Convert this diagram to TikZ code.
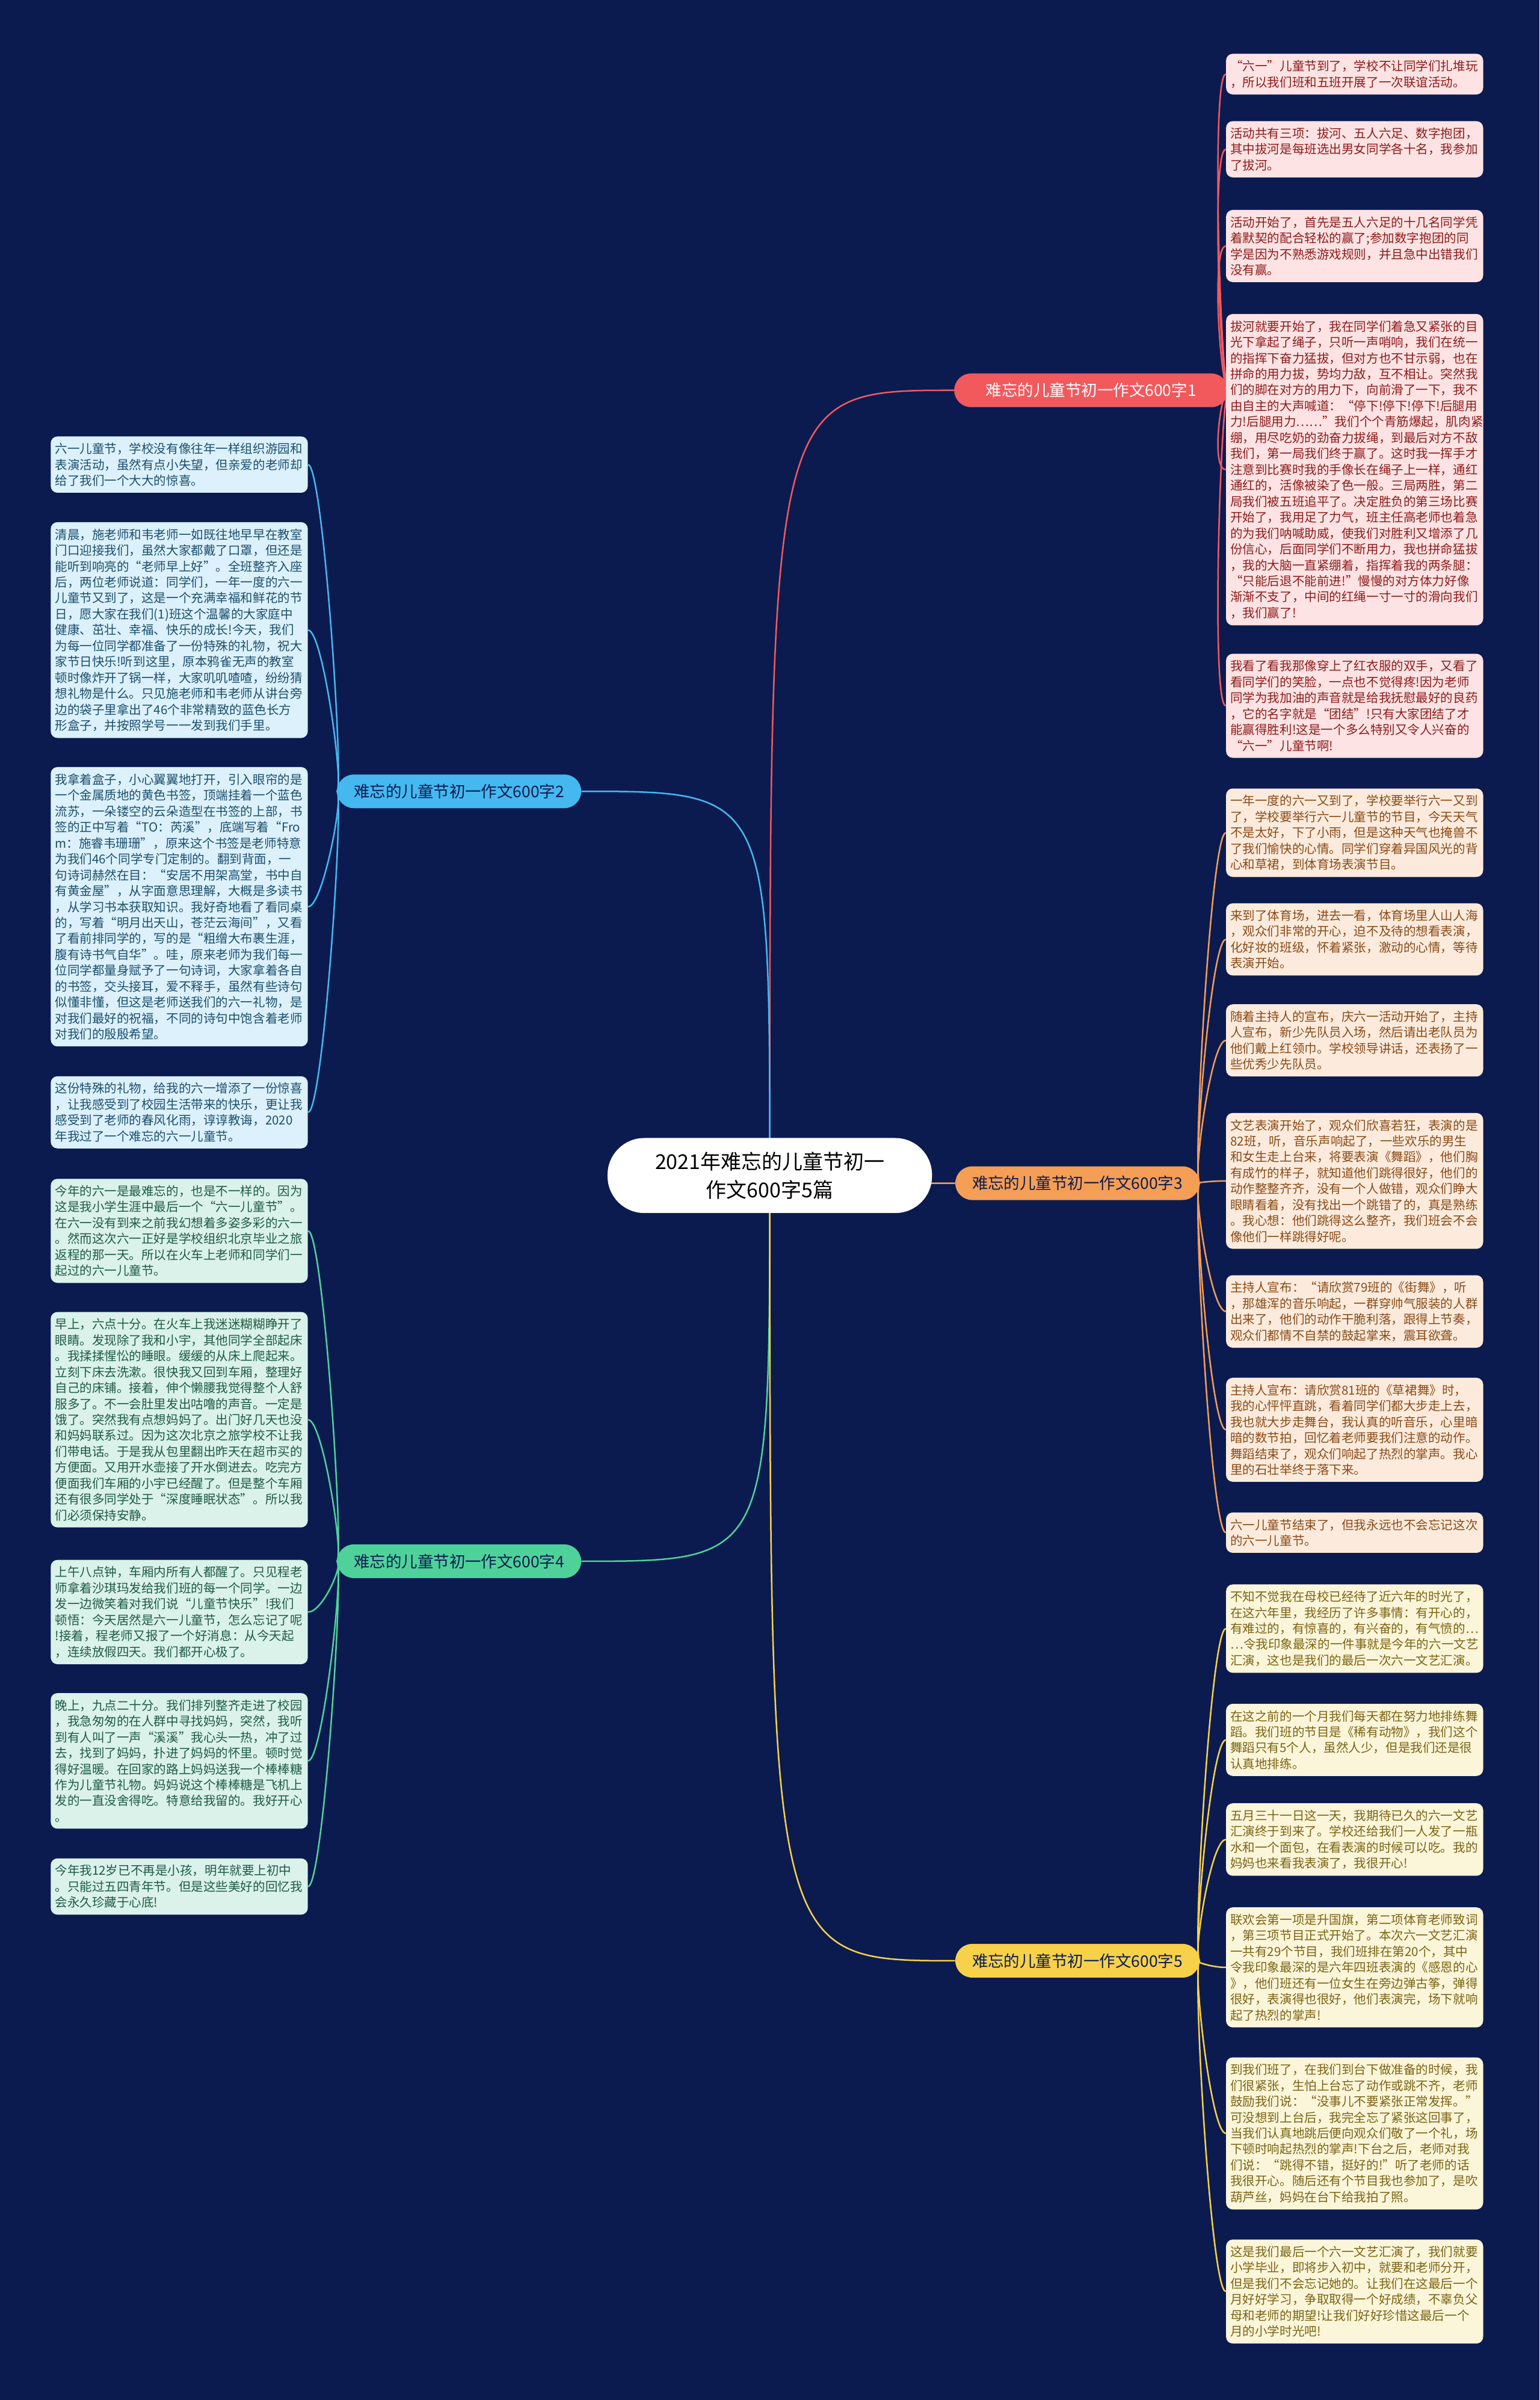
\documentclass[tikz,border=0pt]{standalone}
\usepackage{fontspec}
\setmainfont{Noto Sans CJK SC}
\usetikzlibrary{backgrounds}

\definecolor{bgnavy}{HTML}{0B1B50}
\definecolor{cred}{HTML}{F2595C}
\definecolor{corange}{HTML}{F59E55}
\definecolor{cyellow}{HTML}{F7D14A}
\definecolor{cblue}{HTML}{45B8F0}
\definecolor{cgreen}{HTML}{4FD29A}
\definecolor{fred}{HTML}{FDE3E3}
\definecolor{forange}{HTML}{FCEBDD}
\definecolor{fyellow}{HTML}{FBF5DA}
\definecolor{fblue}{HTML}{DCF1FB}
\definecolor{fgreen}{HTML}{DAF2EA}
\definecolor{tred}{HTML}{8E1B1B}
\definecolor{torange}{HTML}{8A4A16}
\definecolor{tyellow}{HTML}{7C6414}
\definecolor{tblue}{HTML}{1B4F6E}
\definecolor{tgreen}{HTML}{1E5B45}

\tikzset{
  leaf/.style={rounded corners=2.2mm, align=left, text width=231pt,
    inner xsep=4pt, inner ysep=6pt, font=\fontsize{11.5pt}{14.8pt}\selectfont},
  leafr/.style={leaf, fill=fred, text=tred, anchor=north west},
  leafo/.style={leaf, fill=forange, text=torange, anchor=north west},
  leafy/.style={leaf, fill=fyellow, text=tyellow, anchor=north west},
  leafb/.style={leaf, fill=fblue, text=tblue, anchor=north west},
  leafg/.style={leaf, fill=fgreen, text=tgreen, anchor=north west},
  branch/.style={rounded corners=5.5mm, minimum height=11mm, inner xsep=5.5mm,
    font=\fontsize{14.8pt}{17pt}\selectfont},
  root/.style={fill=white, rounded corners=12mm, minimum width=106mm,
    minimum height=24.5mm, align=center, text=black,
    font=\fontsize{19pt}{26pt}\selectfont},
  link/.style={line width=1.4pt}
}

\begin{document}
\begin{tikzpicture}[x=0.5mm,y=-0.5mm]
  \useasboundingbox (0,0) rectangle (1006,1568);

  \node[root] (root) at (503,768) {2021年难忘的儿童节初一\\作文600字5篇};

  \node[branch, fill=cred, text=white, minimum width=89.5mm] (b1) at (713,255) {难忘的儿童节初一作文600字1};
  \node[branch, fill=cblue, text=bgnavy] (b2) at (300,517) {难忘的儿童节初一作文600字2};
  \node[branch, fill=corange, text=bgnavy] (b3) at (704,773) {难忘的儿童节初一作文600字3};
  \node[branch, fill=cgreen, text=bgnavy] (b4) at (300,1020) {难忘的儿童节初一作文600字4};
  \node[branch, fill=cyellow, text=bgnavy] (b5) at (704,1281) {难忘的儿童节初一作文600字5};

  % essay 1
  \node[leafr] (r1a) at (801,35) {“六一”儿童节到了，学校不让同学们扎堆玩\\，所以我们班和五班开展了一次联谊活动。};
  \node[leafr] (r1b) at (801,79) {活动共有三项：拔河、五人六足、数字抱团，\\其中拔河是每班选出男女同学各十名，我参加\\了拔河。};
  \node[leafr] (r1c) at (801,137) {活动开始了，首先是五人六足的十几名同学凭\\着默契的配合轻松的赢了;参加数字抱团的同\\学是因为不熟悉游戏规则，并且急中出错我们\\没有赢。};
  \node[leafr] (r1d) at (801,205) {拔河就要开始了，我在同学们着急又紧张的目\\光下拿起了绳子，只听一声哨响，我们在统一\\的指挥下奋力猛拔，但对方也不甘示弱，也在\\拼命的用力拔，势均力敌，互不相让。突然我\\们的脚在对方的用力下，向前滑了一下，我不\\由自主的大声喊道：“停下!停下!停下!后腿用\\力!后腿用力……”我们个个青筋爆起，肌肉紧\\绷，用尽吃奶的劲奋力拔绳，到最后对方不敌\\我们，第一局我们终于赢了。这时我一挥手才\\注意到比赛时我的手像长在绳子上一样，通红\\通红的，活像被染了色一般。三局两胜，第二\\局我们被五班追平了。决定胜负的第三场比赛\\开始了，我用足了力气，班主任高老师也着急\\的为我们呐喊助威，使我们对胜利又增添了几\\份信心，后面同学们不断用力，我也拼命猛拔\\，我的大脑一直紧绷着，指挥着我的两条腿：\\“只能后退不能前进!”慢慢的对方体力好像\\渐渐不支了，中间的红绳一寸一寸的滑向我们\\，我们赢了!};
  \node[leafr] (r1e) at (801,427) {我看了看我那像穿上了红衣服的双手，又看了\\看同学们的笑脸，一点也不觉得疼!因为老师\\同学为我加油的声音就是给我抚慰最好的良药\\，它的名字就是“团结”!只有大家团结了才\\能赢得胜利!这是一个多么特别又令人兴奋的\\“六一”儿童节啊!};

  % essay 3
  \node[leafo] (r3a) at (801,515) {一年一度的六一又到了，学校要举行六一又到\\了，学校要举行六一儿童节的节目，今天天气\\不是太好，下了小雨，但是这种天气也掩兽不\\了我们愉快的心情。同学们穿着异国风光的背\\心和草裙，到体育场表演节目。};
  \node[leafo] (r3b) at (801,590) {来到了体育场，进去一看，体育场里人山人海\\，观众们非常的开心，迫不及待的想看表演，\\化好妆的班级，怀着紧张，激动的心情，等待\\表演开始。};
  \node[leafo] (r3c) at (801,656) {随着主持人的宣布，庆六一活动开始了，主持\\人宣布，新少先队员入场，然后请出老队员为\\他们戴上红领巾。学校领导讲话，还表扬了一\\些优秀少先队员。};
  \node[leafo] (r3d) at (801,727) {文艺表演开始了，观众们欣喜若狂，表演的是\\82班，听，音乐声响起了，一些欢乐的男生\\和女生走上台来，将要表演《舞蹈》，他们胸\\有成竹的样子，就知道他们跳得很好，他们的\\动作整整齐齐，没有一个人做错，观众们睁大\\眼睛看着，没有找出一个跳错了的，真是熟练\\。我心想：他们跳得这么整齐，我们班会不会\\像他们一样跳得好呢。};
  \node[leafo] (r3e) at (801,833) {主持人宣布：“请欣赏79班的《街舞》，听\\，那雄浑的音乐响起，一群穿帅气服装的人群\\出来了，他们的动作干脆利落，跟得上节奏，\\观众们都情不自禁的鼓起掌来，震耳欲聋。};
  \node[leafo] (r3f) at (801,900) {主持人宣布：请欣赏81班的《草裙舞》时，\\我的心怦怦直跳，看着同学们都大步走上去，\\我也就大步走舞台，我认真的听音乐，心里暗\\暗的数节拍，回忆着老师要我们注意的动作。\\舞蹈结束了，观众们响起了热烈的掌声。我心\\里的石壮举终于落下来。};
  \node[leafo] (r3g) at (801,988) {六一儿童节结束了，但我永远也不会忘记这次\\的六一儿童节。};

  % essay 5
  \node[leafy] (r5a) at (801,1035) {不知不觉我在母校已经待了近六年的时光了，\\在这六年里，我经历了许多事情：有开心的，\\有难过的，有惊喜的，有兴奋的，有气愤的…\\…令我印象最深的一件事就是今年的六一文艺\\汇演，这也是我们的最后一次六一文艺汇演。};
  \node[leafy] (r5b) at (801,1113) {在这之前的一个月我们每天都在努力地排练舞\\蹈。我们班的节目是《稀有动物》，我们这个\\舞蹈只有5个人，虽然人少，但是我们还是很\\认真地排练。};
  \node[leafy] (r5c) at (801,1178) {五月三十一日这一天，我期待已久的六一文艺\\汇演终于到来了。学校还给我们一人发了一瓶\\水和一个面包，在看表演的时候可以吃。我的\\妈妈也来看我表演了，我很开心!};
  \node[leafy] (r5d) at (801,1246) {联欢会第一项是升国旗，第二项体育老师致词\\，第三项节目正式开始了。本次六一文艺汇演\\一共有29个节目，我们班排在第20个，其中\\令我印象最深的是六年四班表演的《感恩的心\\》，他们班还有一位女生在旁边弹古筝，弹得\\很好，表演得也很好，他们表演完，场下就响\\起了热烈的掌声!};
  \node[leafy] (r5e) at (801,1344) {到我们班了，在我们到台下做准备的时候，我\\们很紧张，生怕上台忘了动作或跳不齐，老师\\鼓励我们说：“没事儿不要紧张正常发挥。”\\可没想到上台后，我完全忘了紧张这回事了，\\当我们认真地跳后便向观众们敬了一个礼，场\\下顿时响起热烈的掌声!下台之后，老师对我\\们说：“跳得不错，挺好的!”听了老师的话\\我很开心。随后还有个节目我也参加了，是吹\\葫芦丝，妈妈在台下给我拍了照。};
  \node[leafy] (r5f) at (801,1463) {这是我们最后一个六一文艺汇演了，我们就要\\小学毕业，即将步入初中，就要和老师分开，\\但是我们不会忘记她的。让我们在这最后一个\\月好好学习，争取取得一个好成绩，不辜负父\\母和老师的期望!让我们好好珍惜这最后一个\\月的小学时光吧!};

  % essay 2
  \node[leafb] (l2a) at (33,285) {六一儿童节，学校没有像往年一样组织游园和\\表演活动，虽然有点小失望，但亲爱的老师却\\给了我们一个大大的惊喜。};
  \node[leafb] (l2b) at (33,341) {清晨，施老师和韦老师一如既往地早早在教室\\门口迎接我们，虽然大家都戴了口罩，但还是\\能听到响亮的“老师早上好”。全班整齐入座\\后，两位老师说道：同学们，一年一度的六一\\儿童节又到了，这是一个充满幸福和鲜花的节\\日，愿大家在我们(1)班这个温馨的大家庭中\\健康、茁壮、幸福、快乐的成长!今天，我们\\为每一位同学都准备了一份特殊的礼物，祝大\\家节日快乐!听到这里，原本鸦雀无声的教室\\顿时像炸开了锅一样，大家叽叽喳喳，纷纷猜\\想礼物是什么。只见施老师和韦老师从讲台旁\\边的袋子里拿出了46个非常精致的蓝色长方\\形盒子，并按照学号一一发到我们手里。};
  \node[leafb] (l2c) at (33,501) {我拿着盒子，小心翼翼地打开，引入眼帘的是\\一个金属质地的黄色书签，顶端挂着一个蓝色\\流苏，一朵镂空的云朵造型在书签的上部，书\\签的正中写着“TO：芮溪”，底端写着“Fro\\m：施睿韦珊珊”，原来这个书签是老师特意\\为我们46个同学专门定制的。翻到背面，一\\句诗词赫然在目：“安居不用架高堂，书中自\\有黄金屋”，从字面意思理解，大概是多读书\\，从学习书本获取知识。我好奇地看了看同桌\\的，写着“明月出天山，苍茫云海间”，又看\\了看前排同学的，写的是“粗缯大布裹生涯，\\腹有诗书气自华”。哇，原来老师为我们每一\\位同学都量身赋予了一句诗词，大家拿着各自\\的书签，交头接耳，爱不释手，虽然有些诗句\\似懂非懂，但这是老师送我们的六一礼物，是\\对我们最好的祝福，不同的诗句中饱含着老师\\对我们的殷殷希望。};
  \node[leafb] (l2d) at (33,703) {这份特殊的礼物，给我的六一增添了一份惊喜\\，让我感受到了校园生活带来的快乐，更让我\\感受到了老师的春风化雨，谆谆教诲，2020\\年我过了一个难忘的六一儿童节。};

  % essay 4
  \node[leafg] (l4a) at (33,770) {今年的六一是最难忘的，也是不一样的。因为\\这是我小学生涯中最后一个“六一儿童节”。\\在六一没有到来之前我幻想着多姿多彩的六一\\。然而这次六一正好是学校组织北京毕业之旅\\返程的那一天。所以在火车上老师和同学们一\\起过的六一儿童节。};
  \node[leafg] (l4b) at (33,857) {早上，六点十分。在火车上我迷迷糊糊睁开了\\眼睛。发现除了我和小宇，其他同学全部起床\\。我揉揉惺忪的睡眼。缓缓的从床上爬起来。\\立刻下床去洗漱。很快我又回到车厢，整理好\\自己的床铺。接着，伸个懒腰我觉得整个人舒\\服多了。不一会肚里发出咕噜的声音。一定是\\饿了。突然我有点想妈妈了。出门好几天也没\\和妈妈联系过。因为这次北京之旅学校不让我\\们带电话。于是我从包里翻出昨天在超市买的\\方便面。又用开水壶接了开水倒进去。吃完方\\便面我们车厢的小宇已经醒了。但是整个车厢\\还有很多同学处于“深度睡眠状态”。所以我\\们必须保持安静。};
  \node[leafg] (l4c) at (33,1019) {上午八点钟，车厢内所有人都醒了。只见程老\\师拿着沙琪玛发给我们班的每一个同学。一边\\发一边微笑着对我们说“儿童节快乐”!我们\\顿悟：今天居然是六一儿童节，怎么忘记了呢\\!接着，程老师又报了一个好消息：从今天起\\，连续放假四天。我们都开心极了。};
  \node[leafg] (l4d) at (33,1106) {晚上，九点二十分。我们排列整齐走进了校园\\，我急匆匆的在人群中寻找妈妈，突然，我听\\到有人叫了一声“溪溪”我心头一热，冲了过\\去，找到了妈妈，扑进了妈妈的怀里。顿时觉\\得好温暖。在回家的路上妈妈送我一个棒棒糖\\作为儿童节礼物。妈妈说这个棒棒糖是飞机上\\发的一直没舍得吃。特意给我留的。我好开心\\。};
  \node[leafg] (l4e) at (33,1214) {今年我12岁已不再是小孩，明年就要上初中\\。只能过五四青年节。但是这些美好的回忆我\\会永久珍藏于心底!};

  \begin{scope}[on background layer]
    \fill[bgnavy] (0,0) rectangle (1006,1568);
    % root to branches
    \draw[link, cred] (root.center) .. controls (root.center |- b1.west) .. (b1.west);
    \draw[link, cblue] (root.center) .. controls (root.center |- b2.east) .. (b2.east);
    \draw[link, corange] (root.center) .. controls (root.center |- b3.west) .. (b3.west);
    \draw[link, cgreen] (root.center) .. controls (root.center |- b4.east) .. (b4.east);
    \draw[link, cyellow] (root.center) .. controls (root.center |- b5.west) .. (b5.west);
    % branches to leaves
    \foreach \n in {r1a,r1b,r1c,r1d,r1e}
      \draw[link, cred] (b1.east) .. controls +(-5,0) and +(-10,0) .. (\n.west);
    \foreach \n in {r3a,r3b,r3c,r3d,r3e,r3f,r3g}
      \draw[link, corange] (b3.east) .. controls +(-5,0) and +(-10,0) .. (\n.west);
    \foreach \n in {r5a,r5b,r5c,r5d,r5e,r5f}
      \draw[link, cyellow] (b5.east) .. controls +(-5,0) and +(-10,0) .. (\n.west);
    \foreach \n in {l2a,l2b,l2c,l2d}
      \draw[link, cblue] (b2.west) .. controls +(5,0) and +(10,0) .. (\n.east);
    \foreach \n in {l4a,l4b,l4c,l4d,l4e}
      \draw[link, cgreen] (b4.west) .. controls +(5,0) and +(10,0) .. (\n.east);
  \end{scope}
\end{tikzpicture}
\end{document}
